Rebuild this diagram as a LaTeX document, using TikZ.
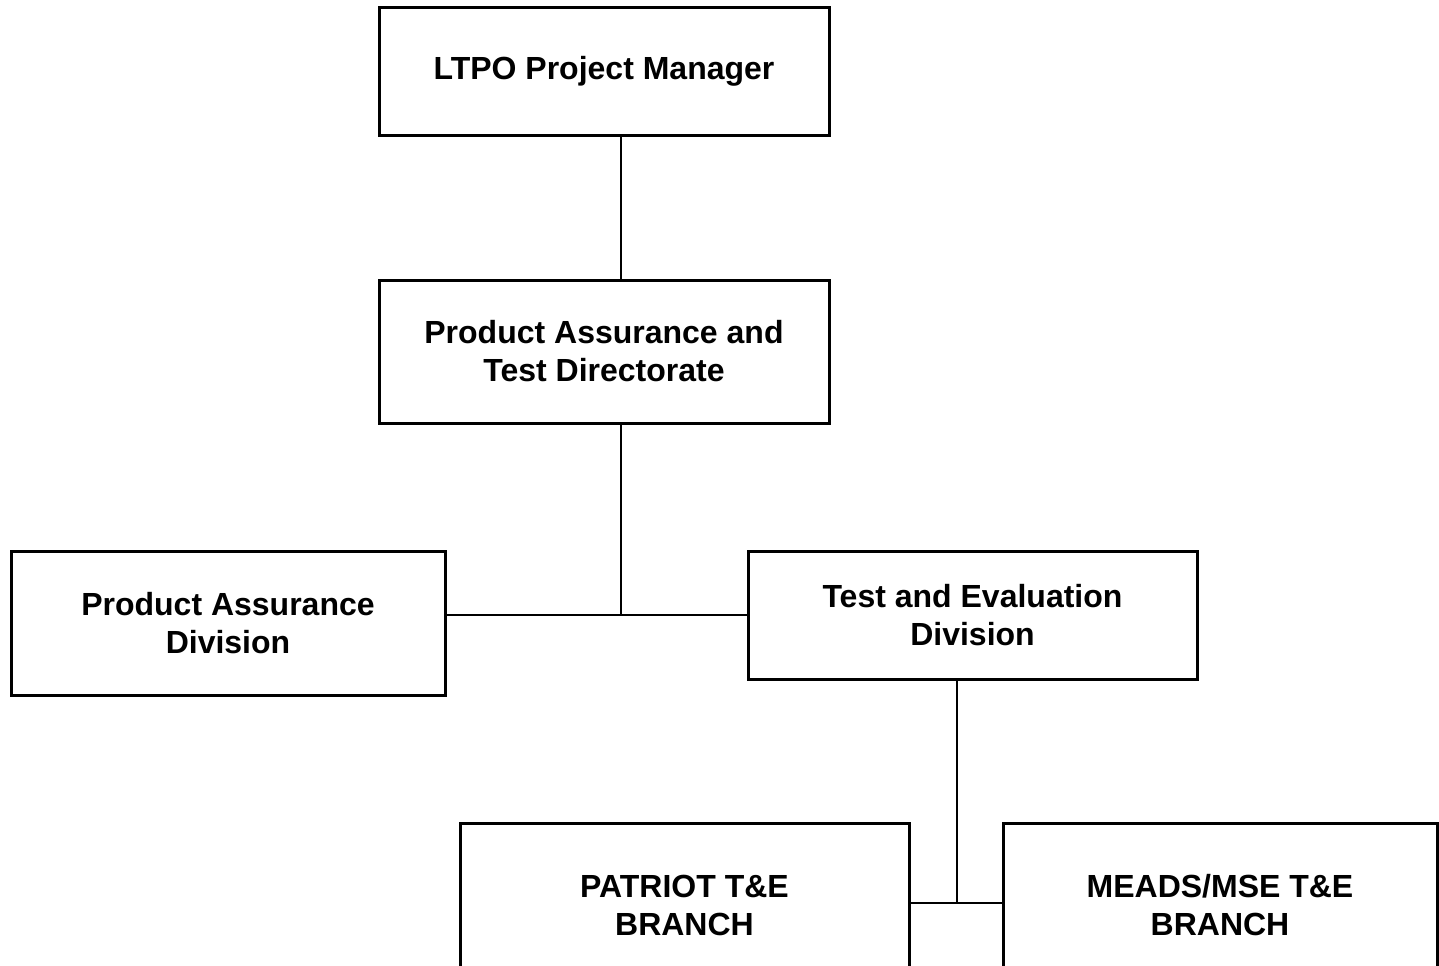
\documentclass[tikz,border=0pt]{standalone}
\usepackage{fontspec}
\setmainfont{Liberation Sans}
\usepackage{tikz}
\usetikzlibrary{positioning,calc}
\tikzset{%
	orgbox/.style = {draw, line width=1.5pt, rectangle, inner sep=0pt, align=center, font=\fontsize{16}{19}\selectfont\bfseries}, % unit box
	link/.style   = {line width=0.75pt}, % connector
	junction/.style = {coordinate},
}

\begin{document}
\begin{tikzpicture}[x=0.5pt,y=-0.5pt]
	\clip (0,0) rectangle (1439,965);
	\useasboundingbox (0,0) rectangle (1439,965);
	\node [orgbox,minimum width=225pt,minimum height=64pt] (pm) at (604,71) {LTPO Project Manager};
	\node [orgbox,minimum width=225pt,minimum height=71.5pt] (patd) at (604,351.5) {Product Assurance and\\Test Directorate};
	\node [orgbox,minimum width=217pt,minimum height=72pt] (pad) at (228,623) {Product Assurance\\Division};
	\node [orgbox,minimum width=224.5pt,minimum height=64pt] (ted) at (972.5,615) {Test and Evaluation\\Division};
	\node [orgbox,minimum width=224.5pt,minimum height=82pt] (pat) at (684.5,905) {PATRIOT T\&E\\BRANCH};
	\node [orgbox,minimum width=217pt,minimum height=82pt] (mse) at (1220,905) {MEADS/MSE T\&E\\BRANCH};
	\coordinate [junction] (j1) at (621,615);
	\coordinate [junction] (j2) at (957,903);

	\draw[link] (pm.south -| j1) -- (patd.north -| j1);
	\draw[link] (patd.south -| j1) -- (j1);
	\draw[link] (pad.east |- j1) -- (ted.west |- j1);
	\draw[link] (ted.south -| j2) -- (j2);
	\draw[link] (pat.east |- j2) -- (mse.west |- j2);
\end{tikzpicture}
\end{document}
